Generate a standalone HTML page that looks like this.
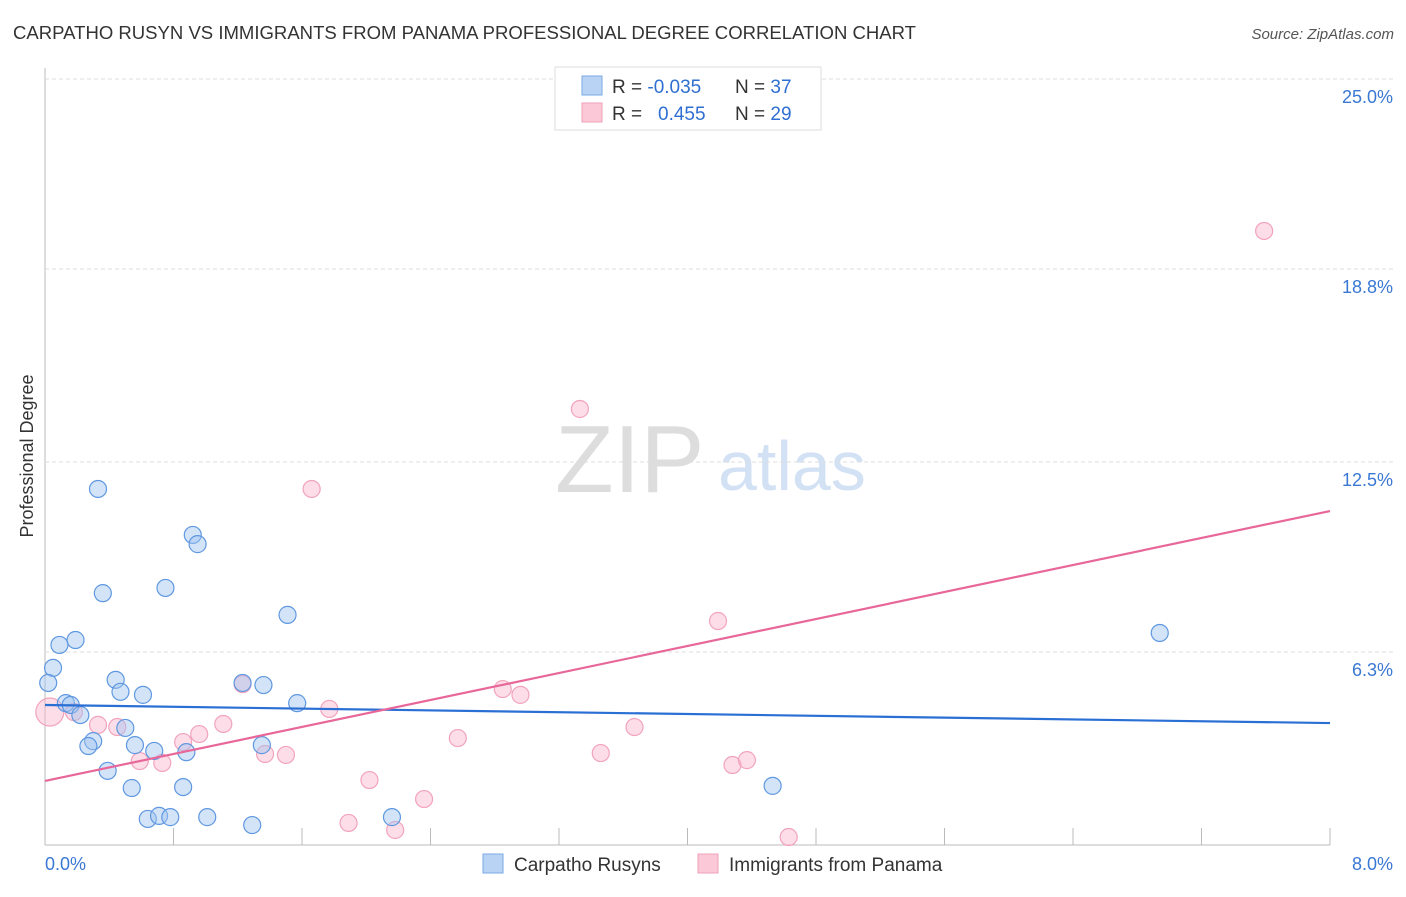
<!DOCTYPE html>
<html><head><meta charset="utf-8"><style>
body{margin:0;background:#fff;font-family:"Liberation Sans",sans-serif}
svg text{font-family:"Liberation Sans",sans-serif}
</style></head><body>
<svg id="c" width="1406" height="892" xmlns="http://www.w3.org/2000/svg">
<text x="13" y="39" font-size="18" fill="#333" textLength="903" lengthAdjust="spacingAndGlyphs">CARPATHO RUSYN VS IMMIGRANTS FROM PANAMA PROFESSIONAL DEGREE CORRELATION CHART</text>
<text x="1394" y="39" font-size="15" fill="#555" font-style="italic" text-anchor="end">Source: ZipAtlas.com</text>
<text x="33" y="456" font-size="18" fill="#333" text-anchor="middle" transform="rotate(-90 33 456)">Professional Degree</text>
<text x="555" y="492" font-size="96" fill="#ddd" font-family="Liberation Serif">ZIP</text>
<text x="718" y="490" font-size="70" fill="#d3e1f5">atlas</text>
<g id="grid"></g><g id="pts"></g><g id="lines"></g>
<g>
<rect x="555" y="67" width="266" height="63" fill="#fff" stroke="#ddd"/>
<rect x="582" y="76" width="20" height="19" fill="#b9d3f5" stroke="#7aa8e6"/>
<rect x="582" y="103" width="20" height="19" fill="#fbc8d8" stroke="#f0a0b8"/>
<text x="612" y="93" font-size="19" fill="#333">R = <tspan fill="#2f6fd1">-0.035</tspan><tspan x="735">N = </tspan><tspan fill="#2f6fd1">37</tspan></text>
<text x="612" y="120" font-size="19" fill="#333">R = <tspan x="658" fill="#2f6fd1">0.455</tspan><tspan x="735">N = </tspan><tspan fill="#2f6fd1">29</tspan></text>
</g>
<g>
<rect x="483" y="854" width="20" height="19" fill="#b9d3f5" stroke="#7aa8e6"/>
<text x="514" y="871" font-size="19" fill="#333">Carpatho Rusyns</text>
<rect x="698" y="854" width="20" height="19" fill="#fbc8d8" stroke="#f0a0b8"/>
<text x="729" y="871" font-size="19" fill="#333">Immigrants from Panama</text>
</g>
</svg>
<script>
const yTicks=[25.0,18.8,12.5,6.3];
const yTickLabels=["25.0%","18.8%","12.5%","6.3%"];
const xTickLabels=["0.0%","8.0%"];
const blueX=[0.33,0.92,0.95,0.36,0.75,1.51,0.09,0.19,0.05,0.02,0.44,0.47,0.61,1.23,1.36,1.57,0.13,0.16,0.22,0.50,0.30,0.27,0.56,0.68,0.88,1.35,0.39,0.54,0.86,0.64,0.71,0.78,1.01,1.29,2.16,4.53,6.94];
const blueY=[11.62,10.12,9.82,8.22,8.39,7.51,6.53,6.69,5.78,5.29,5.39,5.00,4.90,5.29,5.22,4.63,4.63,4.57,4.24,3.82,3.39,3.23,3.26,3.07,3.03,3.26,2.42,1.86,1.89,0.85,0.95,0.91,0.91,0.65,0.91,1.93,6.92];
const pinkX=[7.59,3.33,1.66,4.19,2.85,2.96,1.23,1.77,0.03,0.18,0.33,0.45,1.11,0.96,0.86,0.59,0.73,1.37,1.50,2.57,3.46,3.67,4.28,4.37,2.02,2.36,1.89,2.18,4.63];
const pinkY=[20.04,14.23,11.62,7.31,5.09,4.90,5.25,4.44,4.34,4.34,3.92,3.85,3.95,3.62,3.36,2.74,2.68,2.97,2.94,3.49,3.00,3.85,2.61,2.77,2.12,1.50,0.72,0.49,0.26];
const blueTrend=[4.57,3.98];
const pinkTrend=[2.09,10.90];
const X0=45,X1=1330,Y0=845,YT=79;
const sx=v=>X0+v/8*(X1-X0);
const sy=v=>Y0-v/25*(Y0-YT);
const NS="http://www.w3.org/2000/svg";
function mk(tag,attrs,parent){const e=document.createElementNS(NS,tag);for(const k in attrs)e.setAttribute(k,attrs[k]);parent.appendChild(e);return e;}
const grid=document.getElementById('grid');
let a=mk('line',{x1:X0,y1:68,x2:X0,y2:Y0,stroke:'#bbb'},grid);


a=mk('line',{x1:X0,y1:Y0,x2:X1,y2:Y0,stroke:'#bbb'},grid);


yTicks.forEach((t,i)=>{
 const g=mk('line',{x1:X0,y1:sy(t),x2:1394,y2:sy(t),stroke:'#ddd','stroke-dasharray':'4,3'},grid);
 
 
 const l=mk('text',{x:1393,y:sy(t)+24,'font-size':18,fill:'#3a78d4','text-anchor':'end'},grid);
 l.textContent=yTickLabels[i];
 
 
});
for(let i=0;i<=10;i++){
 const x=sx(i*0.8);
 const t=mk('line',{x1:x,y1:Y0,x2:x,y2:828,stroke:'#bbb'},grid);
 
 
}
[[0,45,'start'],[8,1393,'end']].forEach((d,i)=>{
 const l=mk('text',{x:d[1],y:870,'font-size':18,fill:'#3a78d4','text-anchor':d[2]},grid);
 l.textContent=xTickLabels[i];
 
 
});
const pts=document.getElementById('pts');
pinkX.forEach((v,i)=>{
 const r=(i===8)?14:8.5;
 const c=mk('circle',{cx:sx(v),cy:sy(pinkY[i]),r:r,fill:'rgba(248,180,204,0.45)',stroke:'#f2a3bd','stroke-width':1.2},pts);
 
 
});
blueX.forEach((v,i)=>{
 const c=mk('circle',{cx:sx(v),cy:sy(blueY[i]),r:8.5,fill:'rgba(160,196,240,0.45)',stroke:'#5f98e0','stroke-width':1.2},pts);
 
 
});
const lines=document.getElementById('lines');
let t1=mk('line',{x1:sx(0),y1:sy(blueTrend[0]),x2:sx(8),y2:sy(blueTrend[1]),stroke:'#2a6fd4','stroke-width':2.2},lines);


let t2=mk('line',{x1:sx(0),y1:sy(pinkTrend[0]),x2:sx(8),y2:sy(pinkTrend[1]),stroke:'#e8679a','stroke-width':2.2},lines);


</script>
</body></html>
